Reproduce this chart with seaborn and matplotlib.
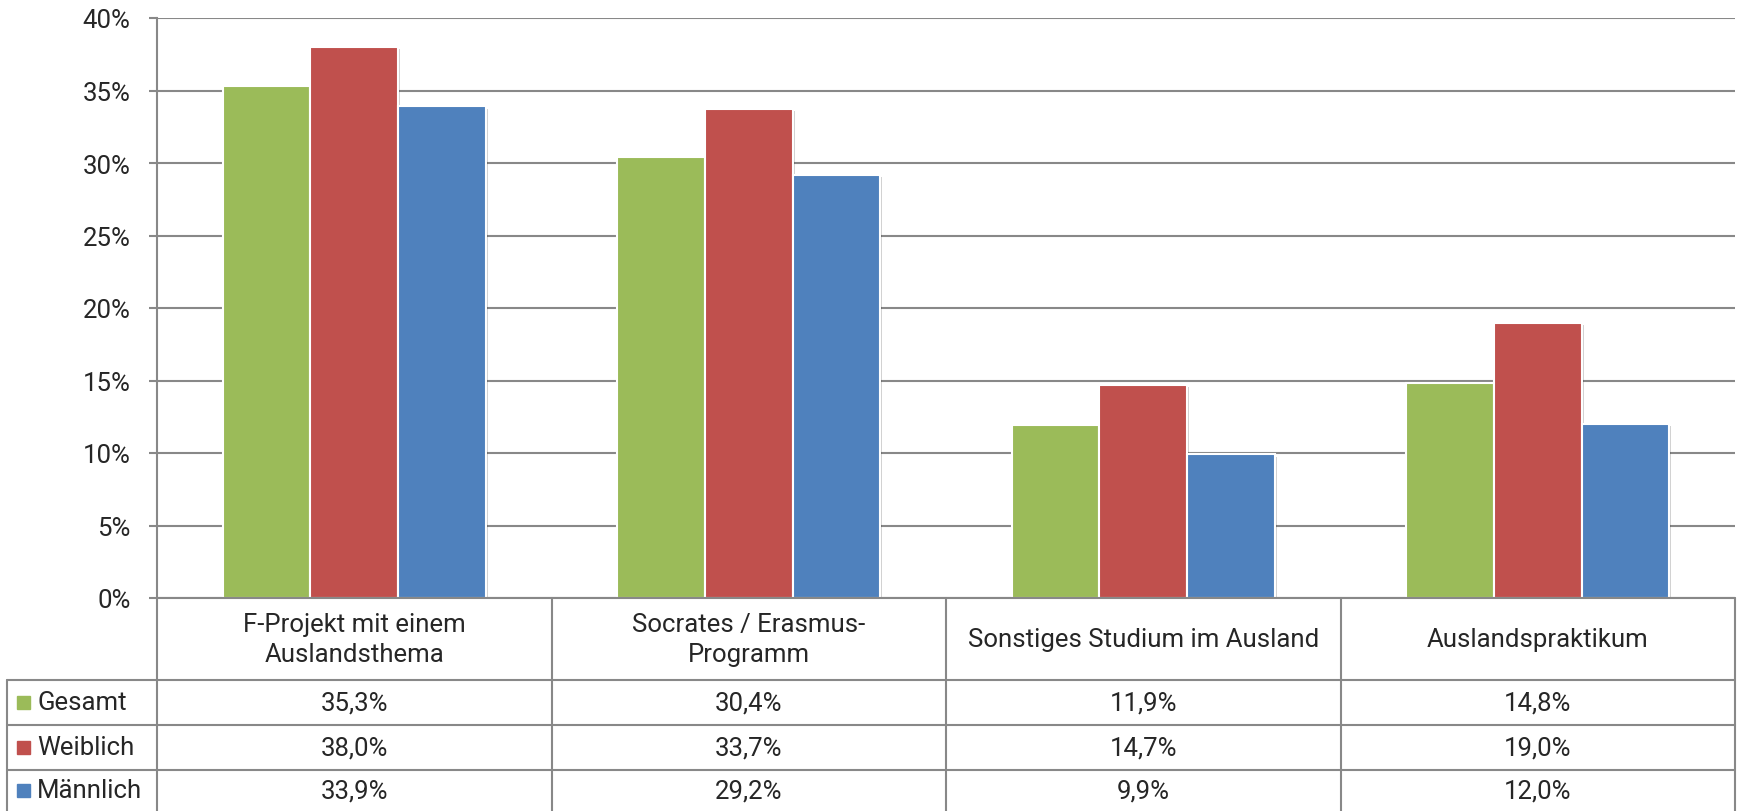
import numpy as np
import pandas as pd
import seaborn as sns
import matplotlib.pyplot as plt
from matplotlib.transforms import blended_transform_factory
from matplotlib.patches import Rectangle
import matplotlib.patheffects as pe

# Data
categories = [
    "F-Projekt mit einem\nAuslandsthema",
    "Socrates / Erasmus-\nProgramm",
    "Sonstiges Studium im Ausland",
    "Auslandspraktikum",
]
groups = ["Gesamt", "Weiblich", "Männlich"]
gesamt = [35.3, 30.4, 11.9, 14.8]
weiblich = [38.0, 33.7, 14.7, 19.0]
maennlich = [33.9, 29.2, 9.9, 12.0]
colors = ["#9BBB59", "#C0504D", "#4F81BD"]

df = pd.DataFrame({
    "kategorie": categories * 3,
    "gruppe": [g for g in groups for _ in categories],
    "wert": gesamt + weiblich + maennlich,
})

sns.set_theme(style="white")
plt.rcParams["font.family"] = ["Roboto", "DejaVu Sans"]
plt.rcParams["font.weight"] = "normal"
txt_color = "#262626"
line_color = "#888888"
fs = 18.5

fig = plt.figure(figsize=(17.44, 8.12), dpi=100)
H = 812.0
W = 1744.0
ax = fig.add_axes([157 / W, (H - 599) / H, 1578 / W, 580 / H])

sns.barplot(
    data=df, x="kategorie", y="wert", hue="gruppe", order=categories,
    hue_order=groups, palette=colors, saturation=1, width=0.667, edgecolor="white",
    linewidth=1.5, legend=False, ax=ax, zorder=3,
)
for p in ax.patches:
    p.set_path_effects([pe.SimplePatchShadow(offset=(1.5, -1.5), alpha=0.18, shadow_rgbFace="#000000"), pe.Normal()])

ax.set_xlim(-0.5, len(categories) - 0.5)
ax.set_ylim(0, 40)
ax.set_yticks(np.arange(0, 41, 5))
ax.set_yticklabels([f"{int(t)}%" for t in np.arange(0, 41, 5)], fontsize=fs, color=txt_color)
ax.yaxis.grid(True, color=line_color, linewidth=1.5, zorder=0)
ax.set_axisbelow(True)
ax.set_xticks([])
ax.set_xlabel("")
ax.set_ylabel("")
for s in ["top", "right", "bottom"]:
    ax.spines[s].set_visible(False)
ax.spines["left"].set_color(line_color)
ax.spines["left"].set_linewidth(1.5)
ax.tick_params(axis="y", left=True, length=6, width=1.5, color=line_color, pad=13)

# Data table below the chart
tab = fig.add_axes([0, 0, 1, 213 / H])
tab.set_axis_off()
tr = blended_transform_factory(ax.transData, tab.transAxes)
row_y = [1.0, 1 - 82 / 213, 1 - 127 / 213, 1 - 172 / 213, 0.0]
left_x = 7 / W
n = len(categories)
edges = np.arange(n + 1) - 0.5

lkw = dict(color=line_color, linewidth=1.5, clip_on=False)
# header row top line (over plot area)
tab.plot([edges[0], edges[-1]], [1, 1], transform=tr, **lkw)
# vertical lines for category columns
for e in edges:
    tab.plot([e, e], [0, 1], transform=tr, **lkw)
# data row lines incl. legend column
right_x = ax.get_position().x1
for y in row_y[1:4]:
    tab.plot([left_x, right_x], [y, y], transform=tab.transAxes, **lkw)
tab.plot([left_x, left_x], [0, row_y[1]], transform=tab.transAxes, **lkw)

# header labels
for i, c in enumerate(categories):
    tab.text(i, (row_y[0] + row_y[1]) / 2, c, transform=tr, ha="center", va="center",
             fontsize=fs, color=txt_color, linespacing=1.35)

# values
series = [gesamt, weiblich, maennlich]
for r, (g, vals, col) in enumerate(zip(groups, series, colors)):
    yc = (row_y[r + 1] + row_y[r + 2]) / 2
    for i, v in enumerate(vals):
        tab.text(i, yc, f"{v:.1f}%".replace(".", ","), transform=tr, ha="center",
                 va="center", fontsize=fs, color=txt_color)
    tab.add_patch(Rectangle((17 / W, yc - 6.5 / 213), 13 / W, 13 / 213,
                            transform=tab.transAxes, color=col, clip_on=False))
    tab.text(37 / W, yc, g, transform=tab.transAxes, ha="left", va="center",
             fontsize=fs, color=txt_color)

fig.savefig("out.png", dpi=100)
